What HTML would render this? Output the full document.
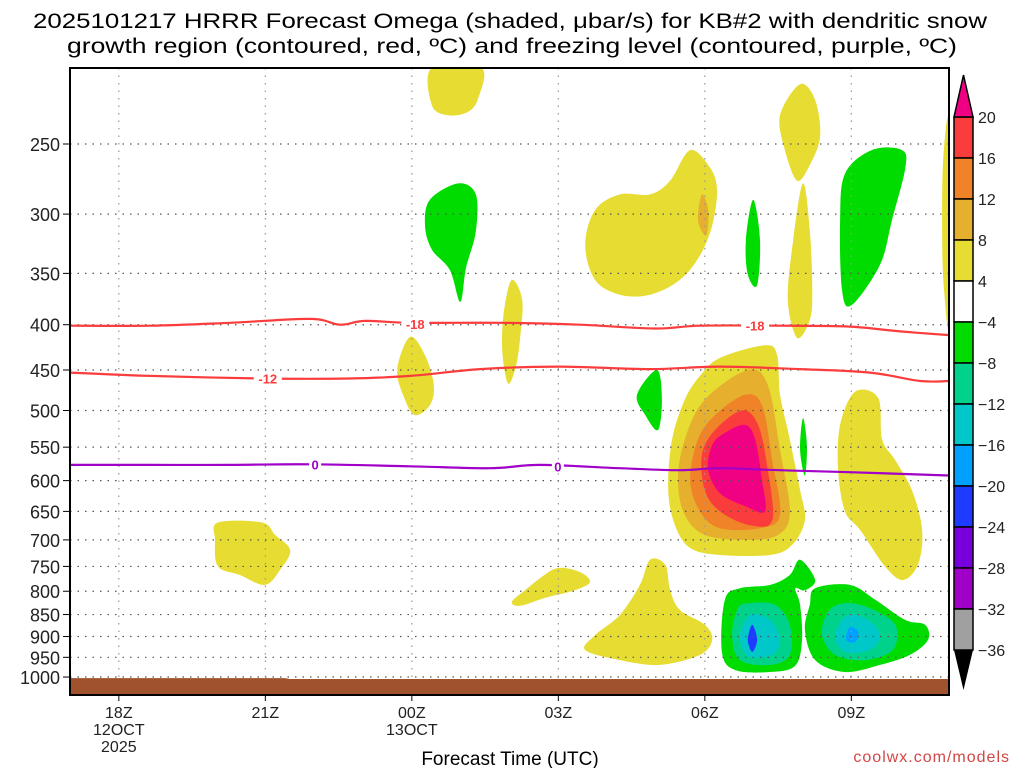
<!DOCTYPE html>
<html><head><meta charset="utf-8"><style>
body{margin:0;background:#fff;}
svg{display:block;font-family:"Liberation Sans",sans-serif;}
</style></head><body>
<svg id="chart" width="1024" height="768" viewBox="0 0 1024 768" xmlns="http://www.w3.org/2000/svg">
<text x="510" y="28" font-size="21" text-anchor="middle" textLength="954" lengthAdjust="spacingAndGlyphs">2025101217 HRRR Forecast Omega (shaded, μbar/s) for KB#2 with dendritic snow</text>
<text x="512" y="53" font-size="21" text-anchor="middle" textLength="890" lengthAdjust="spacingAndGlyphs">growth region (contoured, red, ºC) and freezing level (contoured, purple, ºC)</text>
<g id="plot"></g>
<g id="axes"></g>
<g id="cbar"></g>
<text x="510" y="765" font-size="19" text-anchor="middle">Forecast Time (UTC)</text>
<text x="1010" y="762" font-size="16" fill="#d24646" text-anchor="end" letter-spacing="1">coolwx.com/models</text>
</svg>
<script>
// ---- data ----
const pressureTicks = [250,300,350,400,450,500,550,600,650,700,750,800,850,900,950,1000];
const hourTicks = [1,4,7,10,13,16];
const hourLabels = [["18Z","12OCT","2025"],["21Z"],["00Z","13OCT"],["03Z"],["06Z"],["09Z"]];
const cbarLevels = [20,16,12,8,4,-4,-8,-12,-16,-20,-24,-28,-32,-36];
const cbarColors = ["#fa3c3c","#f08228","#e6af2d","#e6dc32","#ffffff","#00dc00","#00d28c","#00c8c8","#00a0ff","#1e3cff","#7800dc","#a000c8","#a0a0a0"];
const surfacePressure = [[0,1003],[4.4,1003],[4.5,1005],[18,1005]];
const lineM18 = [[0,401],[1.64,401],[3.28,398],[4.92,394],[5.53,400],[6.04,396],[6.96,398],[8.81,398],[10.44,400],[11.98,404],[12.9,401],[14.54,401],[15.97,402],[17.0,407],[18,411]];
const lineM12 = [[0,453],[1.64,457],[3.93,460],[5.73,460],[6.96,457],[8.4,449],[10.03,446],[11.88,449],[13.31,446],[14.95,449],[16.38,453],[17.41,463],[18,463]];
const line0 = [[0,576],[1.64,576],[3.28,576],[4.92,575],[6.96,578],[8.6,581],[9.63,576],[11.26,581],[12.49,584],[13.31,581],[14.54,584],[15.97,587],[18,592]];
const lineLabels = [["-18",7.07,399,"#fa3c3c"],["-18",14.03,401,"#fa3c3c"],["-12",4.05,460,"#fa3c3c"],["0",5.02,575,"#a000c8"],["0",9.99,578,"#a000c8"]];
const blobs = [
 ["yellow-top","#e6dc32",[[7.41,205],[8.42,205],[8.36,222],[8.15,230],[7.74,232],[7.41,226]]],
 ["green-00z","#00dc00",[[7.95,277],[8.31,285],[8.31,314],[8.11,345],[7.99,377],[7.78,347],[7.41,329],[7.27,309],[7.37,289]]],
 ["yellow-03z-upper","#e6dc32",[[12.70,254],[13.11,266],[13.25,282],[13.15,309],[12.90,334],[12.49,356],[11.88,370],[11.26,370],[10.75,356],[10.55,325],[10.75,297],[11.26,285],[11.88,285],[12.29,275]]],
 ["orange-small","#e6af2d",[[12.94,285],[13.07,297],[13.03,317],[12.86,305]]],
 ["yellow-narrow-02z","#e6dc32",[[9.05,356],[9.26,375],[9.22,413],[9.13,446],[8.97,466],[8.85,427],[8.89,385]]],
 ["yellow-00z-mid","#e6dc32",[[6.96,413],[7.27,433],[7.45,468],[7.37,493],[7.07,506],[6.86,486],[6.70,450]]],
 ["green-05z","#00dc00",[[12.02,450],[12.12,486],[12.04,526],[11.78,506],[11.61,480]]],
 ["green-thin-07z","#00dc00",[[13.99,289],[14.13,321],[14.07,361],[13.88,351],[13.84,321]]],
 ["yellow-08z-top","#e6dc32",[[14.95,214],[15.26,223],[15.36,245],[15.15,264],[14.89,275],[14.64,254],[14.54,232]]],
 ["yellow-narrow-08z","#e6dc32",[[15.01,277],[15.15,313],[15.20,366],[15.15,395],[14.89,414],[14.70,375],[14.81,321]]],
 ["green-09z-upper","#00dc00",[[16.42,254],[17.04,254],[17.10,267],[16.83,305],[16.59,342],[16.01,380],[15.81,366],[15.77,305],[15.87,270]]],
 ["yellow-right-edge","#e6dc32",[[18,238],[17.88,261],[17.86,321],[17.90,366],[18,395]]],
 ["yellow-09z-lower","#e6dc32",[[16.08,476],[16.55,484],[16.63,539],[16.90,569],[17.24,615],[17.45,682],[17.37,745],[17.06,777],[16.69,750],[16.18,682],[15.87,650],[15.73,584],[15.77,519]]],
 ["green-thin-08z","#00dc00",[[15.01,510],[15.09,547],[15.05,592],[14.95,554]]],
 ["yellow-06z-main","#e6dc32",[[13.31,436],[14.23,422],[14.48,433],[14.54,480],[14.74,539],[14.95,615],[15.05,665],[14.79,709],[14.34,728],[13.31,728],[12.70,715],[12.39,674],[12.25,615],[12.33,539],[12.59,486],[12.90,457]]],
 ["ltorange-06z","#e6af2d",[[13.88,450],[14.29,468],[14.54,554],[14.74,650],[14.50,691],[13.82,700],[13.00,691],[12.59,656],[12.45,599],[12.59,539],[13.00,486]]],
 ["orange-06z","#f08228",[[13.82,480],[14.17,493],[14.38,569],[14.54,656],[14.13,679],[13.31,679],[12.90,650],[12.70,599],[12.86,539],[13.21,506]]],
 ["red-06z","#fa3c3c",[[13.76,500],[14.09,519],[14.29,584],[14.38,665],[13.93,674],[13.31,650],[13.00,615],[12.94,561],[13.21,526]]],
 ["magenta-06z","#f00082",[[13.82,519],[14.03,539],[14.17,599],[14.23,650],[13.82,641],[13.31,620],[13.07,584],[13.15,547],[13.41,530]]],
 ["yellow-21z","#e6dc32",[[3.03,669],[3.93,669],[4.20,691],[4.51,719],[4.30,757],[3.99,787],[3.48,767],[3.03,750],[2.97,700]]],
 ["yellow-03z-lower","#e6dc32",[[9.99,753],[10.44,761],[10.65,781],[10.34,798],[9.73,814],[9.22,831],[9.05,822],[9.32,798],[9.63,773]]],
 ["yellow-05z-lower","#e6dc32",[[11.88,737],[12.19,747],[12.29,798],[12.49,840],[13.00,873],[13.15,908],[12.90,944],[12.08,969],[11.26,957],[10.55,932],[10.75,897],[11.26,851],[11.67,787]]],
 ["green-07z-lower","#00dc00",[[14.95,737],[15.26,777],[15.05,798],[14.85,794],[14.95,829],[14.99,908],[14.85,971],[14.34,987],[13.62,982],[13.35,937],[13.41,818],[13.72,794],[14.34,787],[14.74,767]]],
 ["teal-07z","#00d28c",[[13.93,825],[14.44,829],[14.74,873],[14.74,944],[14.34,969],[13.72,957],[13.56,897],[13.68,836]]],
 ["cyan-07z","#00c8c8",[[13.93,851],[14.34,862],[14.54,908],[14.38,944],[13.88,947],[13.72,897]]],
 ["blue-07z","#1e3cff",[[13.97,873],[14.07,908],[13.97,937],[13.88,908]]],
 ["green-09z-lower","#00dc00",[[15.26,794],[15.97,787],[16.49,818],[17.10,862],[17.51,873],[17.57,908],[17.20,944],[16.59,969],[15.87,987],[15.26,957],[15.05,885],[15.15,829]]],
 ["teal-09z","#00d28c",[[15.87,825],[16.38,836],[16.90,873],[16.85,932],[16.28,957],[15.67,944],[15.40,897],[15.52,844]]],
 ["cyan-09z","#00c8c8",[[15.93,851],[16.34,862],[16.59,897],[16.38,932],[15.87,937],[15.67,897]]],
 ["ltblue-09z","#00a0ff",[[15.97,878],[16.14,889],[16.08,913],[15.89,908]]]
];
// ---- axes ----
const L=70,R=949,T=68,B=695;
const X=h=>L+h*(R-L)/18;
const Y=p=>144+384.5*Math.log(p/250);
const NS="http://www.w3.org/2000/svg";
function mk(tag,parent,attrs){const e=document.createElementNS(NS,tag);for(const k in attrs)e.setAttribute(k,attrs[k]);parent.appendChild(e);return e;}
function smooth(pts,closed){
 const n=pts.length;let d="M"+pts[0][0].toFixed(1)+","+pts[0][1].toFixed(1);
 const m=closed?n:n-1;
 for(let i=0;i<m;i++){
  const p0=pts[closed?(i-1+n)%n:Math.max(i-1,0)],p1=pts[i],p2=pts[(i+1)%n],p3=pts[closed?(i+2)%n:Math.min(i+2,n-1)];
  const c1=[p1[0]+(p2[0]-p0[0])/6,p1[1]+(p2[1]-p0[1])/6],c2=[p2[0]-(p3[0]-p1[0])/6,p2[1]-(p3[1]-p1[1])/6];
  d+=" C"+c1[0].toFixed(1)+","+c1[1].toFixed(1)+" "+c2[0].toFixed(1)+","+c2[1].toFixed(1)+" "+p2[0].toFixed(1)+","+p2[1].toFixed(1);
 }
 return d+(closed?"Z":"");
}
const plot=document.getElementById('plot'),axes=document.getElementById('axes'),cbar=document.getElementById('cbar');
const defs=mk('defs',plot,{});const cp=mk('clipPath',defs,{id:'clip'});mk('rect',cp,{x:L,y:T,width:R-L,height:B-T});
const g=mk('g',plot,{'clip-path':'url(#clip)'});
blobs.forEach(b=>{
 const el=mk('path',g,{d:smooth(b[2].map(q=>[X(q[0]),Y(q[1])]),true),fill:b[1]});
 
 
});
// grid
pressureTicks.forEach(p=>{
 const l=mk('line',g,{x1:L,x2:R,y1:Y(p),y2:Y(p),stroke:'#555','stroke-width':1.2,'stroke-dasharray':'1.5,6'});
 
 
});
hourTicks.forEach(h=>{
 const l=mk('line',g,{x1:X(h),x2:X(h),y1:T,y2:B,stroke:'#999','stroke-width':1.2,'stroke-dasharray':'1.5,6'});
 
 
});
// surface
const sp=surfacePressure.map(q=>[X(q[0]),Y(q[1])]);
const surf=mk('path',g,{d:"M"+sp.map(q=>q.join(",")).join(" L")+" L"+R+","+B+" L"+L+","+B+"Z",fill:'#a0522d'});


// contours
[[lineM18,'#fa3c3c','contour-minus18'],[lineM12,'#fa3c3c','contour-minus12'],[line0,'#a000c8','freezing-level']].forEach(c=>{
 const el=mk('path',g,{d:smooth(c[0].map(q=>[X(q[0]),Y(q[1])]),false),fill:'none',stroke:c[1],'stroke-width':2.2});
 
 
});
lineLabels.forEach(lb=>{
 const x=X(lb[1]),y=Y(lb[2]);const w=lb[0].length*8+4;
 const r=mk('rect',g,{x:x-w/2,y:y-7,width:w,height:14,fill:'#fff'});
 
 
 const t=mk('text',g,{x:x,y:y+5,'font-size':13,'font-weight':'bold',fill:lb[3],'text-anchor':'middle'});
 t.textContent=lb[0];
 
 
});
// frame
const fr=mk('rect',axes,{x:L,y:T,width:R-L,height:B-T,fill:'none',stroke:'#000','stroke-width':2});


pressureTicks.forEach(p=>{
 const t=mk('text',axes,{x:60,y:Y(p)+7,'font-size':18,'text-anchor':'end',fill:'#222'});
 t.textContent=p;
 
 
 const tk=mk('line',axes,{x1:L-7,x2:L,y1:Y(p),y2:Y(p),stroke:'#000','stroke-width':1});
 
 
});
hourTicks.forEach((h,i)=>{
 const tk=mk('line',axes,{x1:X(h),x2:X(h),y1:B,y2:B+6,stroke:'#000','stroke-width':1});
 
 
 hourLabels[i].forEach((s,j)=>{
  const t=mk('text',axes,{x:X(h),y:718+j*17,'font-size':16,'text-anchor':'middle',fill:'#222'});
  t.textContent=s;
  
  
 });
});
// colorbar
const cx=954,cw=19,ctop=117,step=(650-117)/(cbarLevels.length-1);
cbarColors.forEach((c,i)=>{
 const r=mk('rect',cbar,{x:cx,y:ctop+i*step,width:cw,height:step,fill:c,stroke:'#000','stroke-width':1.5});
 
 
});
const up=mk('polygon',cbar,{points:`${cx},${ctop} ${cx+cw},${ctop} ${cx+cw/2},75`,fill:'#f00082',stroke:'#000','stroke-width':1.5});


const dn=mk('polygon',cbar,{points:`${cx},650 ${cx+cw},650 ${cx+cw/2},690`,fill:'#000'});


cbarLevels.forEach((v,i)=>{
 const t=mk('text',cbar,{x:978,y:ctop+i*step+6,'font-size':16,fill:'#222'});
 t.textContent=v<0?"\u2212"+(-v):String(v);
 
 
});
</script>
</body></html>
